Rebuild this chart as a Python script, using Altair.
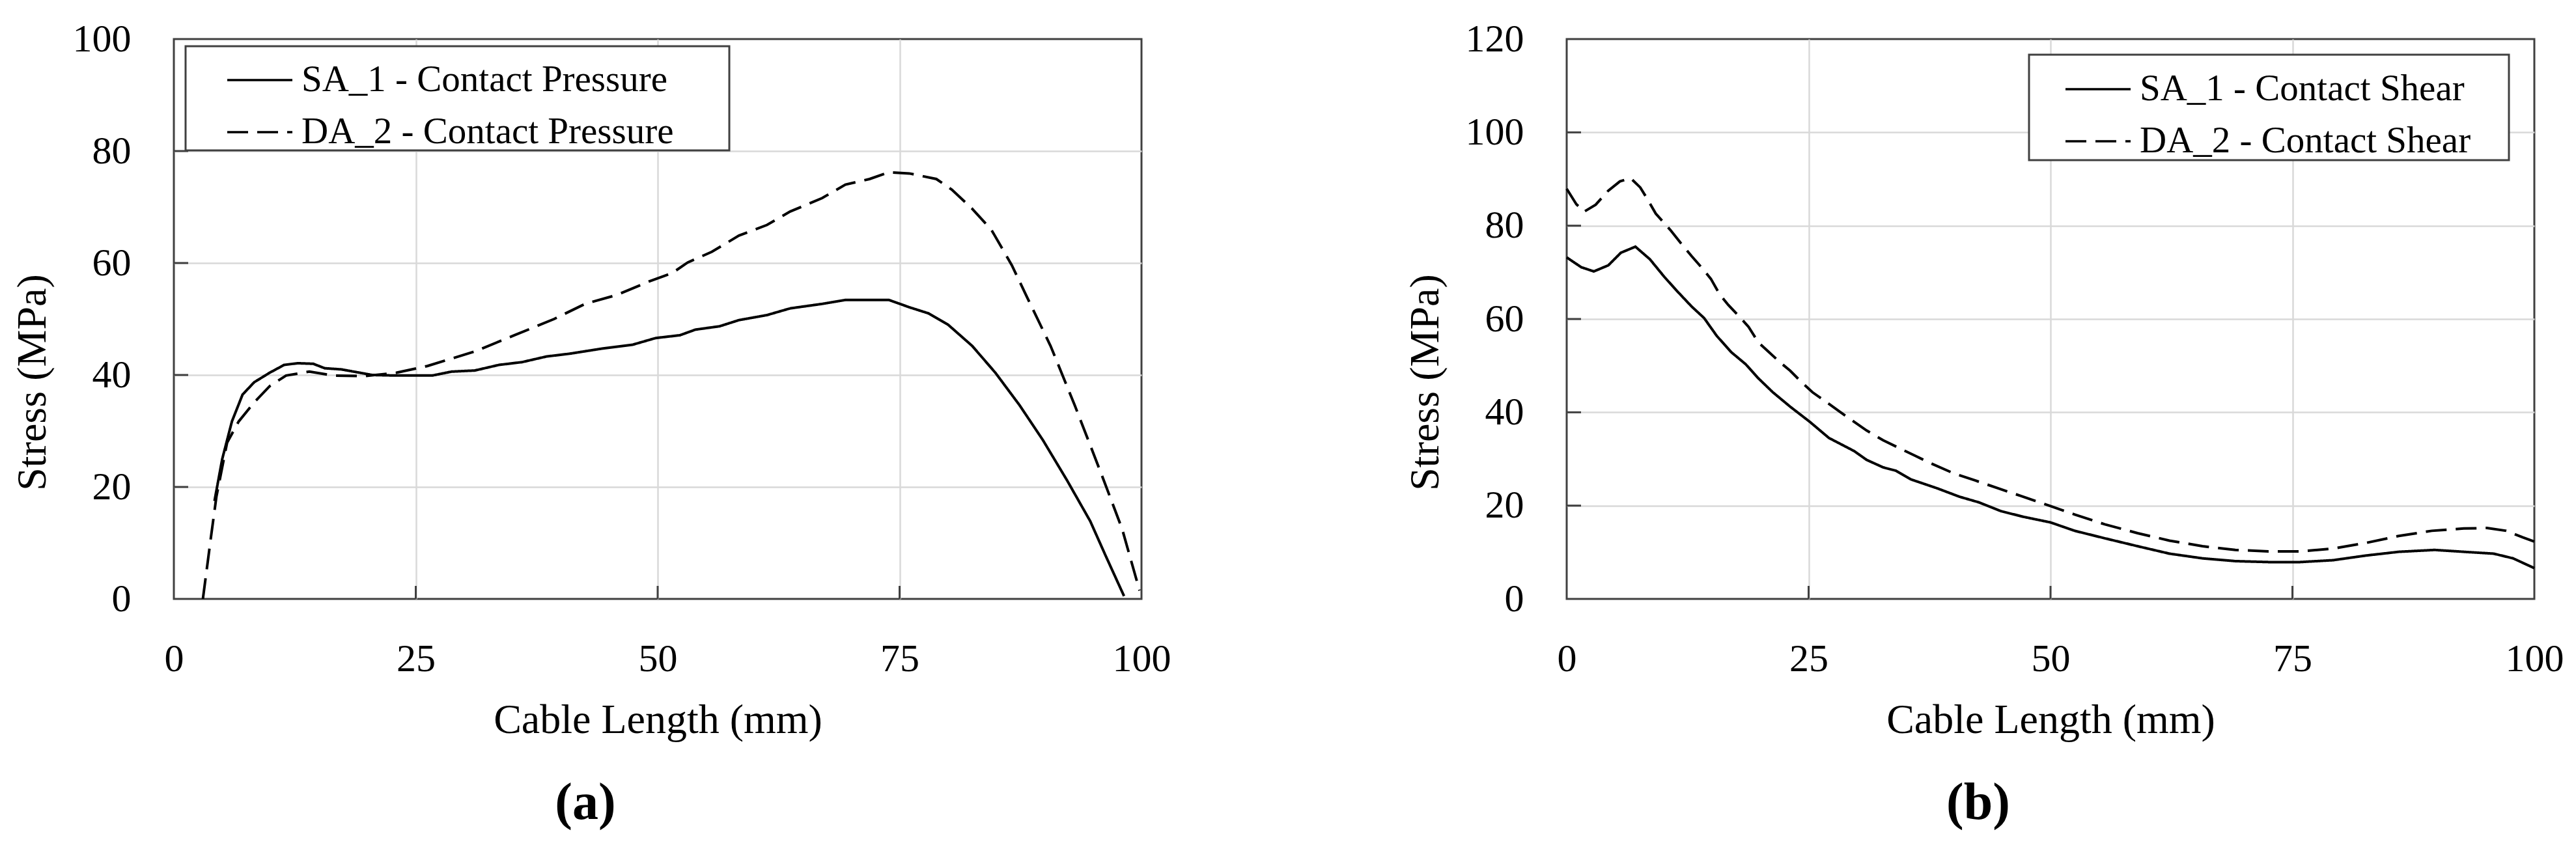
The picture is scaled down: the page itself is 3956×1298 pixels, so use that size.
import altair as alt
import pandas as pd

# ---------------- data ----------------
# Panel (a): contact pressure
a_sa_x = [4.2, 5.0, 6.0, 7.1, 8.3, 9.9, 11.4, 12.8, 14.4, 15.6, 17.3, 20.5, 22.9, 26.7, 28.7,
          31.1, 33.6, 36.0, 38.5, 40.9, 44.2, 47.4, 49.8, 52.3, 53.9, 56.4, 58.4, 61.3, 63.7,
          67.0, 69.4, 71.9, 73.9, 76.0, 78.0, 80.0, 82.5, 84.9, 87.4, 89.8, 92.3, 94.7, 96.3, 98.2]
a_sa_y = [17.5, 25.0, 31.7, 36.5, 38.7, 40.4, 41.8, 42.1, 42.0, 41.2, 41.0, 40.0, 39.9, 39.9, 40.6,
          40.8, 41.8, 42.3, 43.3, 43.8, 44.7, 45.4, 46.6, 47.1, 48.1, 48.7, 49.8, 50.7, 51.9,
          52.7, 53.4, 53.4, 53.4, 52.1, 51.0, 49.0, 45.2, 40.4, 34.6, 28.4, 21.2, 13.9, 7.7, 0.5]
a_da_x = [3.0, 3.8, 4.4, 5.5, 6.7, 8.3, 9.9, 11.6, 14.0, 16.5, 19.7, 23.0, 26.2, 31.1, 35.2,
          39.3, 42.5, 45.8, 49.1, 51.5, 53.1, 55.6, 58.4, 61.3, 63.7, 67.0, 69.4, 71.9, 73.9,
          76.0, 78.8, 80.4, 82.5, 84.5, 86.6, 88.2, 90.6, 93.1, 95.9, 98.0, 99.8]
a_da_y = [0.0, 10.6, 18.3, 27.9, 31.7, 35.1, 38.0, 39.9, 40.6, 39.9, 39.8, 40.4, 41.6, 44.2, 47.1,
          50.0, 52.7, 54.3, 56.7, 58.2, 60.1, 62.0, 64.9, 66.8, 69.2, 71.6, 74.0, 75.0, 76.2,
          76.0, 75.0, 73.1, 69.7, 65.9, 59.6, 53.8, 45.2, 34.6, 22.1, 12.5, 1.5]

# Panel (b): contact shear
b_sa_x = [0.0, 1.5, 2.8, 4.3, 5.6, 7.1, 8.6, 10.1, 11.4, 12.9, 14.2, 15.5, 17.0, 18.5, 19.8,
          21.3, 23.1, 25.1, 27.1, 29.7, 31.0, 32.7, 34.0, 35.6, 38.3, 40.6, 42.6, 44.9, 47.2,
          50.0, 52.5, 55.6, 59.0, 62.3, 65.7, 69.1, 72.5, 75.8, 79.2, 82.6, 86.0, 89.7, 92.7,
          95.8, 97.8, 100.0]
b_sa_y = [73.2, 71.1, 70.2, 71.5, 74.2, 75.5, 72.8, 69.0, 66.0, 62.7, 60.2, 56.4, 52.9, 50.3, 47.3,
          44.3, 41.2, 38.0, 34.5, 31.7, 29.8, 28.2, 27.5, 25.6, 23.7, 21.9, 20.7, 18.8, 17.6,
          16.4, 14.6, 13.0, 11.3, 9.7, 8.7, 8.1, 7.9, 7.9, 8.3, 9.3, 10.1, 10.5, 10.1,
          9.7, 8.7, 6.6]
b_da_x = [0.0, 1.0, 1.8, 3.0, 4.3, 5.5, 6.6, 7.6, 8.4, 9.2, 10.7, 11.9, 12.9, 14.0, 14.9,
          15.8, 16.7, 17.8, 18.8, 19.8, 20.8, 22.0, 23.1, 24.3, 25.4, 26.7, 28.1, 29.4, 31.0,
          32.7, 34.3, 36.0, 37.6, 39.9, 42.2, 44.6, 46.9, 50.0, 52.5, 55.6, 59.0, 62.3, 65.7,
          69.1, 72.5, 75.8, 79.2, 82.6, 86.0, 89.4, 92.7, 95.1, 97.1, 98.8, 100.0]
b_da_y = [87.9, 84.6, 83.0, 84.5, 87.5, 89.5, 90.2, 88.2, 85.5, 82.6, 79.1, 76.0, 73.5, 70.9, 68.6,
          65.3, 63.0, 60.6, 58.3, 55.0, 53.1, 50.8, 48.9, 46.4, 44.3, 42.4, 40.3, 38.4, 36.1,
          34.0, 32.4, 30.7, 29.1, 27.0, 25.4, 23.7, 22.1, 19.9, 18.1, 16.0, 14.1, 12.5, 11.3,
          10.5, 10.2, 10.2, 10.8, 12.0, 13.5, 14.6, 15.1, 15.2, 14.6, 13.2, 12.3]

a_names = ["SA_1 - Contact Pressure", "DA_2 - Contact Pressure"]
b_names = ["SA_1 - Contact Shear", "DA_2 - Contact Shear"]
x_ticks = [0, 25, 50, 75, 100]
a_y_ticks = [0, 20, 40, 60, 80, 100]
b_y_ticks = [0, 20, 40, 60, 80, 100, 120]

FONT = "Liberation Serif"
W, H = 1486, 860
FRAME = "#404040"
GRID = "#d9d9d9"


def panel(sa_x, sa_y, da_x, da_y, names, ymax, yticks, caption, leg):
    df = pd.concat([
        pd.DataFrame({"x": sa_x, "y": sa_y, "series": names[0], "order": range(len(sa_x))}),
        pd.DataFrame({"x": da_x, "y": da_y, "series": names[1], "order": range(len(da_x))}),
    ])
    xscale = alt.Scale(domain=[0, 100], nice=False, zero=False)
    yscale = alt.Scale(domain=[0, ymax], nice=False)
    xgrid = {"condition": {"test": "datum.value === 0 || datum.value === 100", "value": "transparent"},
             "value": GRID}
    ygrid = {"condition": {"test": f"datum.value === 0 || datum.value === {ymax}", "value": "transparent"},
             "value": GRID}
    xaxis = alt.Axis(values=x_ticks, title="Cable Length (mm)", labelFlush=False, labelOverlap=False,
                     labelPadding=110, labelBaseline="alphabetic",
                     titleY=205, titleBaseline="alphabetic", gridColor=xgrid)
    yaxis = alt.Axis(values=yticks, title="Stress (MPa)", labelPadding=66, labelOverlap=False,
                     titleX=-217, titleY=527, titleBaseline="middle", titleAlign="center",
                     gridColor=ygrid)
    lines = alt.Chart(df).mark_line(color="black", strokeWidth=4).encode(
        x=alt.X("x:Q", scale=xscale, axis=xaxis),
        y=alt.Y("y:Q", scale=yscale, axis=yaxis),
        strokeDash=alt.StrokeDash("series:N", scale=alt.Scale(domain=names, range=[[1, 0], [32, 14]]),
                                  legend=alt.Legend(orient="none", title=None, **leg)),
        order="order:Q",
    )
    ytk = alt.Chart(pd.DataFrame({"y": yticks[1:-1]})).mark_rule(color=FRAME, strokeWidth=3).encode(
        y=alt.Y("y:Q", scale=yscale, axis=yaxis), x=alt.value(0), x2=alt.value(22))
    xtk = alt.Chart(pd.DataFrame({"x": x_ticks[1:-1]})).mark_rule(color=FRAME, strokeWidth=3).encode(
        x=alt.X("x:Q", scale=xscale, axis=xaxis), y=alt.value(H), y2=alt.value(H - 20))
    return alt.layer(lines, ytk, xtk).properties(
        width=W, height=H,
        title=alt.TitleParams(caption, orient="bottom", anchor="middle", dx=-111, offset=120,
                              baseline="alphabetic", font=FONT, fontSize=80, fontWeight="bold",
                              color="black"))


# trailing spaces are kept (a zero-width space stops them being trimmed) to widen the legend box
left = panel(a_sa_x, a_sa_y, a_da_x, a_da_y, a_names, 100, a_y_ticks, "(a)",
             dict(legendX=18, legendY=11, padding=0, rowPadding=-4, symbolOffset=62,
                  labelExpr="datum.label + '\u2003\u2002\u200b'"))
right = panel(b_sa_x, b_sa_y, b_da_x, b_da_y, b_names, 120, b_y_ticks, "(b)",
              dict(legendX=710, legendY=24, padding=1, rowPadding=-2, symbolOffset=53,
                   labelExpr="datum.label + '\u2003\u200b'"))

chart = alt.hconcat(left, right, spacing=355).resolve_scale(
    strokeDash="independent"
).resolve_legend(
    strokeDash="independent"
).properties(
    padding={"left": 8, "top": 20, "right": 5, "bottom": 5}
).configure_view(
    stroke=FRAME, strokeWidth=3
).configure_axis(
    domain=False, ticks=False, tickSize=0, gridWidth=2.5,
    labelFont=FONT, labelFontSize=60, labelColor="black",
    titleFont=FONT, titleFontSize=64, titleFontWeight="normal", titleColor="black"
).configure_legend(
    fillColor="white", strokeColor=FRAME, strokeWidth=3,
    symbolType="stroke", symbolSize=10000, symbolStrokeWidth=3.5, symbolStrokeColor="black",
    labelFont=FONT, labelFontSize=57, labelColor="black", labelLimit=2000, labelOffset=12
)

chart.save("out.html", embed_options={"renderer": "svg", "actions": False})
